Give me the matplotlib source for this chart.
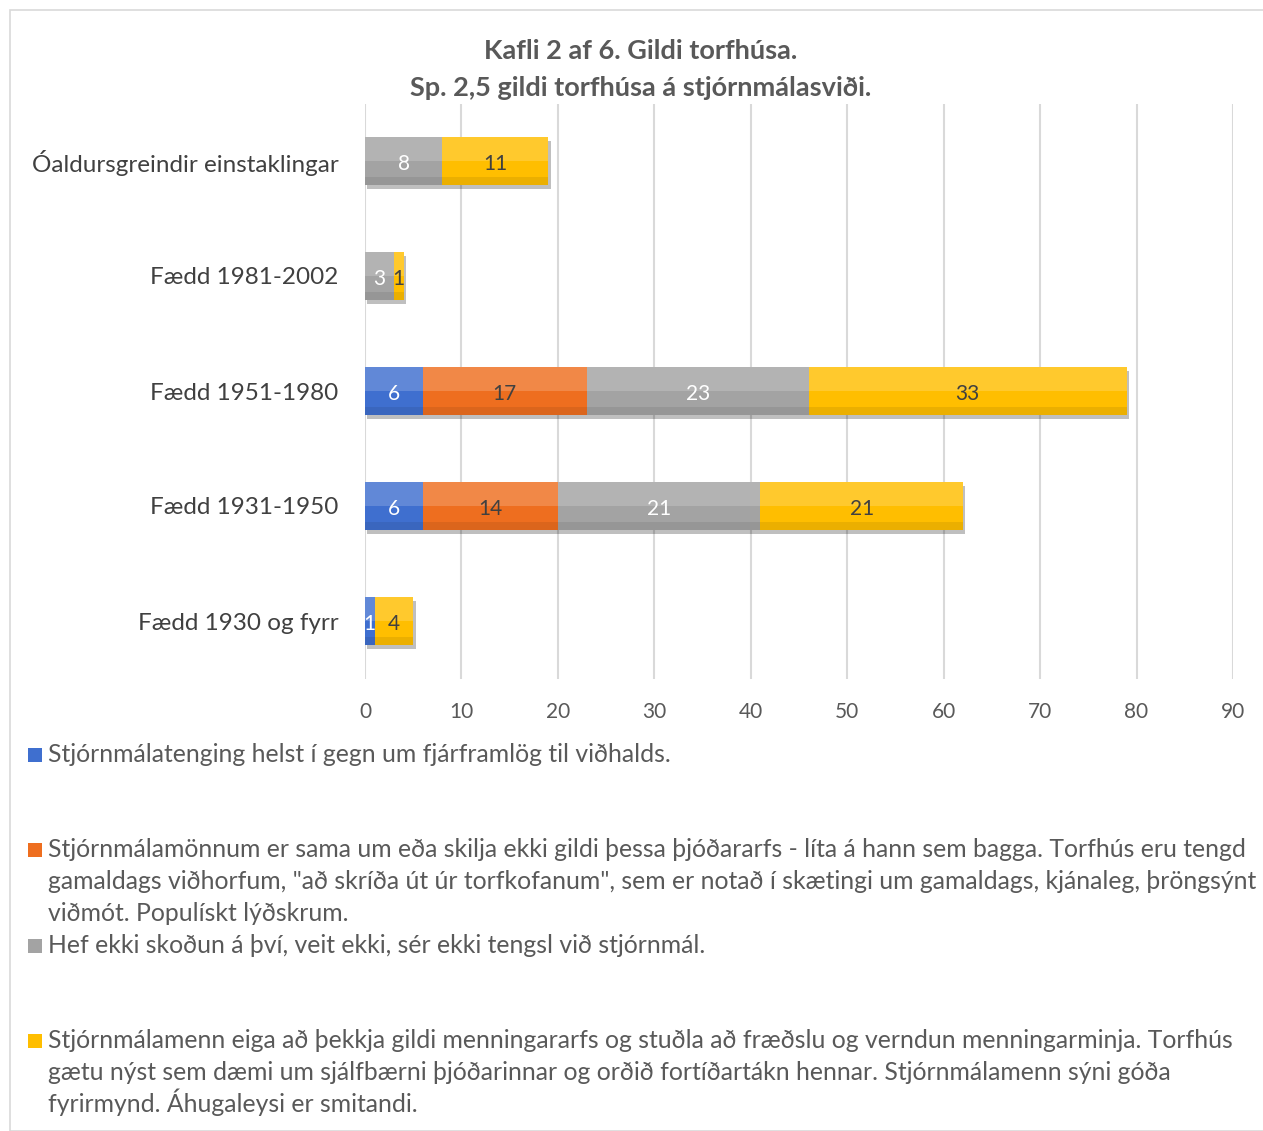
import matplotlib
matplotlib.use("Agg")
import matplotlib.pyplot as plt
from matplotlib.patches import Rectangle
import numpy as np

plt.rcParams['font.family'] = ['Lato', 'DejaVu Sans']

categories = ["Óaldursgreindir einstaklingar", "Fædd 1981-2002", "Fædd 1951-1980",
              "Fædd 1931-1950", "Fædd 1930 og fyrr"]
s_blue = [0, 0, 6, 6, 1]
s_orange = [0, 0, 17, 14, 0]
s_gray = [8, 3, 23, 21, 0]
s_yellow = [11, 1, 33, 21, 4]
series = [s_blue, s_orange, s_gray, s_yellow]
colors = ["#3F6FCF", "#EE6E1F", "#A3A3A3", "#FFBE00"]
label_colors = ["white", "#404040", "white", "#404040"]
legend_texts = [
    ["Stjórnmálatenging helst í gegn um fjárframlög til viðhalds."],
    ["Stjórnmálamönnum er sama um eða skilja ekki gildi þessa þjóðararfs - líta á hann sem bagga. Torfhús eru tengd",
     "gamaldags viðhorfum, \"að skríða út úr torfkofanum\", sem er notað í skætingi um gamaldags, kjánaleg, þröngsýnt",
     "viðmót. Populískt lýðskrum."],
    ["Hef ekki skoðun á því, veit ekki, sér ekki tengsl við stjórnmál."],
    ["Stjórnmálamenn eiga að þekkja gildi menningararfs og stuðla að fræðslu og verndun menningarminja. Torfhús",
     "gætu nýst sem dæmi um sjálfbærni þjóðarinnar og orðið fortíðartákn hennar. Stjórnmálamenn sýni góða",
     "fyrirmynd. Áhugaleysi er smitandi."],
]
xticks = [0, 10, 20, 30, 40, 50, 60, 70, 80, 90]

W, H = 1263, 1131
fig = plt.figure(figsize=(W / 100, H / 100), dpi=100)
fig.patch.set_facecolor("white")

# outer frame
fig.patches.append(Rectangle((10 / W, 0), 1.0, 1 - 10 / H, transform=fig.transFigure,
                             fill=False, edgecolor="#D9D9D9", lw=1.2, zorder=0))

ax_l, ax_r, ax_t, ax_b = 365, 1233, 103.5, 678.5
ax = fig.add_axes([ax_l / W, 1 - ax_b / H, (ax_r - ax_l) / W, (ax_b - ax_t) / H])
ax.set_xlim(0, 90)
ax.set_ylim(-0.5, 4.5)
ax.invert_yaxis()

y = np.arange(len(categories))
bh = 0.42
left = np.zeros(len(categories))
# shadows
for i, s in enumerate(series):
    s = np.array(s, dtype=float)
    ax.barh(y + 0.035, s, left=left + 0.25, height=bh, color="#000000", alpha=0.25,
            zorder=2, linewidth=0)
    left += s
left = np.zeros(len(categories))
for i, s in enumerate(series):
    s = np.array(s, dtype=float)
    ax.barh(y, s, left=left, height=bh, color=colors[i], zorder=3, linewidth=0)
    # glossy top half
    ax.barh(y - bh * 0.25, s, left=left, height=bh * 0.5, color="white", alpha=0.18,
            zorder=4, linewidth=0)
    # darker bottom strip
    ax.barh(y + bh * 0.42, s, left=left, height=bh * 0.16, color="black", alpha=0.08,
            zorder=4, linewidth=0)
    for j, v in enumerate(s):
        if v > 0:
            ax.text(left[j] + v / 2, y[j] + 0.025, f"{int(v)}", ha="center", va="center",
                    fontsize=15, color=label_colors[i], zorder=5)
    left += s

ax.set_xticks(xticks)
ax.set_xticklabels([str(t) for t in xticks], fontsize=15, color="#595959")
ax.set_yticks(y)
ax.set_yticklabels(categories, fontsize=17.5, color="#404040")
ax.tick_params(axis="both", length=0)
ax.tick_params(axis="x", pad=17)
ax.tick_params(axis="y", pad=19)
ax.grid(axis="x", color="#D9D9D9", lw=1.5, zorder=0)
ax.set_axisbelow(True)
for sp in ax.spines.values():
    sp.set_visible(False)

# title
fig.text(641 / W, 1 - 51 / H, "Kafli 2 af 6. Gildi torfhúsa.", ha="center", va="center",
         fontsize=19.5, fontweight="bold", color="#595959")
fig.text(641 / W, 1 - 88 / H, "Sp. 2,5 gildi torfhúsa á stjórnmálasviði.", ha="center",
         va="center", fontsize=19.5, fontweight="bold", color="#595959")

# legend
leg_y = [755, 850, 946, 1041]
for i, (lines, yy) in enumerate(zip(legend_texts, leg_y)):
    fig.patches.append(Rectangle((28 / W, 1 - (yy + 7) / H), 14 / W, 14 / H,
                                 transform=fig.transFigure, facecolor=colors[i],
                                 edgecolor="none"))
    for k, line in enumerate(lines):
        fig.text(48 / W, 1 - (yy + 7 + 32 * k) / H, line, ha="left", va="baseline",
                 fontsize=17.8, color="#595959")

fig.savefig("out.png", dpi=100)
